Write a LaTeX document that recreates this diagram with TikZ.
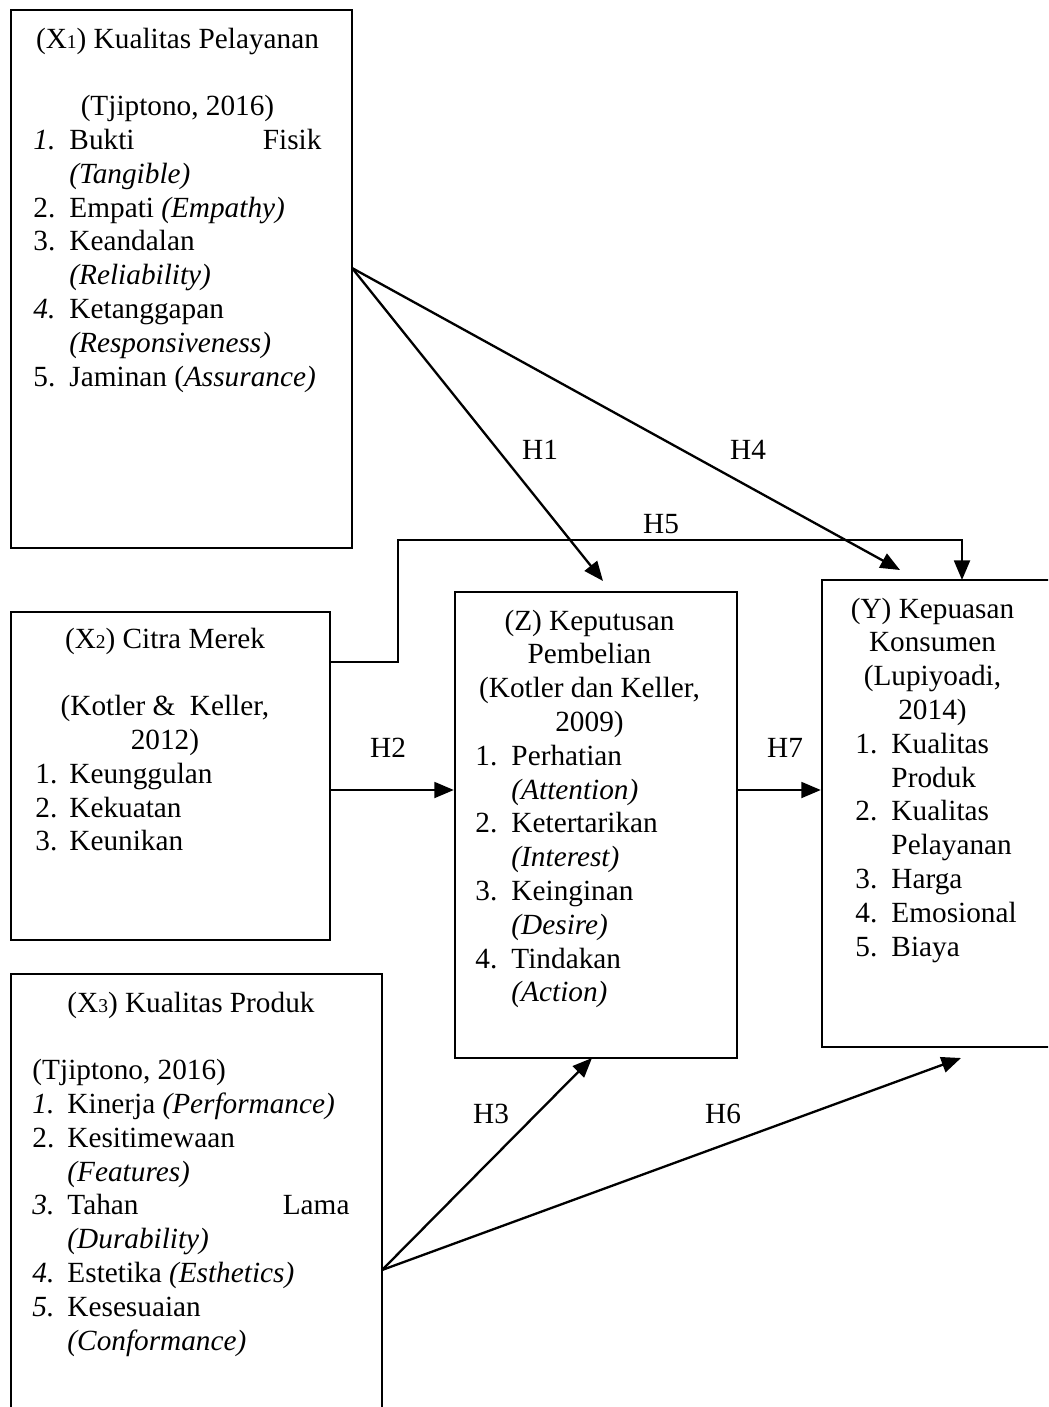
\documentclass[tikz,border=0pt]{standalone}
\usepackage{fontspec}
\setmainfont{Liberation Serif}
\usetikzlibrary{arrows.meta,fit}
\newlength\px \setlength\px{0.41pt}
\newlength\numw
\newcommand\itm[2]{\makebox[\numw][l]{#1}#2\par}
\newcommand\cont[1]{\hspace*{\numw}#1\par}
\newcommand\cl[1]{\makebox[\linewidth]{#1}\par}
\newcommand\sbd[1]{{\fontsize{8}{8}\selectfont #1}}
\newcommand\blk{\mbox{}\par}
\newcommand\bodyfont{\fontsize{12}{13.86}\selectfont}
\begin{document}
\begin{tikzpicture}[x=0.41pt,y=-0.41pt,
  box/.style={draw, line width=0.95pt, inner sep=0pt},
  arr/.style={draw, line width=0.95pt, -{Triangle[length=8pt,width=6.5pt]}},
  lbl/.style={anchor=base, inner sep=0pt, font=\fontsize{12}{14}\selectfont},
  txtnode/.style={anchor=base west, inner sep=0pt}]
\useasboundingbox (0,0) rectangle (1048,1407);
\clip (0,0) rectangle (1048,1407);

% boxes
\node[box, fit={(11,10) (352,548)}] (x1) {};
\node[box, fit={(11,612) (330,940)}] (x2) {};
\node[box, fit={(455,592) (737,1058)}] (z) {};
\node[box, fit={(822,580) (1070,1047)}] (y) {};
\node[box, fit={(11,974) (382,1430)}] (x3) {};

% texts
\node[txtnode] (x1t) at (33,48) {\parbox[t]{288\px}{\bodyfont\setlength\numw{36\px}%
\cl{(X\sbd{1}) Kualitas Pelayanan}
\blk
\cl{(Tjiptono, 2016)}
{\parfillskip=0pt \itm{\textit{1.}}{Bukti\hfill Fisik}}
\cont{\textit{(Tangible)}}
\itm{2.}{Empati \textit{(Empathy)}}
\itm{3.}{Keandalan}
\cont{\textit{(Reliability)}}
\itm{\textit{4.}}{Ketanggapan}
\cont{\textit{(Responsiveness)}}
\itm{5.}{Jaminan (\textit{Assurance)}}}};

\node[txtnode] (x2t) at (35,648) {\parbox[t]{259\px}{\bodyfont\setlength\numw{34\px}%
\cl{(X\sbd{2}) Citra Merek}
\blk
\cl{(Kotler \&\ \ Keller,}
\cl{2012)}
\itm{1.}{Keunggulan}
\itm{2.}{Kekuatan}
\itm{3.}{Keunikan}}};

\node[txtnode] (zt) at (475,630) {\parbox[t]{228\px}{\bodyfont\setlength\numw{36\px}%
\cl{(Z) Keputusan}
\cl{Pembelian}
\cl{(Kotler dan Keller,}
\cl{2009)}
\itm{1.}{Perhatian}
\cont{\textit{(Attention)}}
\itm{2.}{Ketertarikan}
\cont{\textit{(Interest)}}
\itm{3.}{Keinginan}
\cont{\textit{(Desire)}}
\itm{4.}{Tindakan}
\cont{\textit{(Action)}}}};

\node[txtnode] (yt) at (855,618) {\parbox[t]{154\px}{\bodyfont\setlength\numw{36\px}%
\cl{(Y) Kepuasan}
\cl{Konsumen}
\cl{(Lupiyoadi,}
\cl{2014)}
\itm{1.}{Kualitas}
\cont{Produk}
\itm{2.}{Kualitas}
\cont{Pelayanan}
\itm{3.}{Harga}
\itm{4.}{Emosional}
\itm{5.}{Biaya}}};

\node[txtnode] (x3t) at (32,1012) {\parbox[t]{317\px}{\bodyfont\setlength\numw{35\px}%
\cl{(X\sbd{3}) Kualitas Produk}
\blk
(Tjiptono, 2016)\par
\itm{\textit{1.}}{Kinerja \textit{(Performance)}}
\itm{2.}{Kesitimewaan}
\cont{\textit{(Features)}}
{\parfillskip=0pt \itm{\textit{3.}}{Tahan\hfill Lama}}
\cont{\textit{(Durability)}}
\itm{\textit{4.}}{Estetika \textit{(Esthetics)}}
\itm{\textit{5.}}{Kesesuaian}
\cont{\textit{(Conformance)}}}};

% connector points
\coordinate (x1o) at (352,268);
\coordinate (h1e) at (603,581);
\coordinate (h4e) at (900,570);
\coordinate (x2o) at (330,662);
\coordinate (h5a) at (398,540);
\coordinate (h5e) at (962,580);
\coordinate (hy) at (0,790);
\coordinate (x3o) at (382,1270);
\coordinate (h3e) at (592,1058);
\coordinate (h6e) at (961,1058);

% connectors
\draw[arr] (x1o) -- (h1e);
\draw[arr] (x1o) -- (h4e);
\draw[arr] (x2o) -| (h5a) -| (h5e);
\draw[arr] (x2.east |- hy) -- (z.west |- hy);
\draw[arr] (z.east |- hy) -- (y.west |- hy);
\draw[arr] (x3o) -- (h3e);
\draw[arr] (x3o) -- (h6e);

% labels
\node[lbl] (l1) at (540,459) {H1};
\node[lbl] (l4) at (748,459) {H4};
\node[lbl] (l5) at (661,533) {H5};
\node[lbl] (l2) at (388,757) {H2};
\node[lbl] (l7) at (785,757) {H7};
\node[lbl] (l3) at (491,1123) {H3};
\node[lbl] (l6) at (723,1123) {H6};
\end{tikzpicture}
\end{document}
